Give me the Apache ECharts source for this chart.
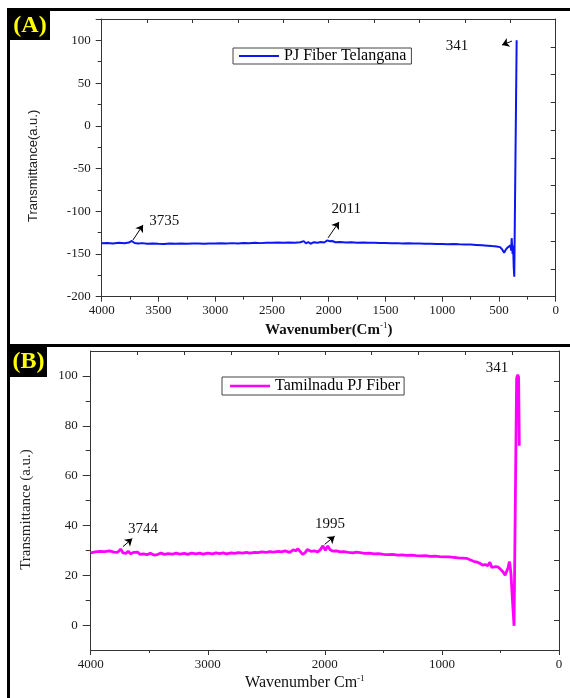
<!DOCTYPE html>
<html>
<head>
<meta charset="utf-8">
<script src="https://cdn.jsdelivr.net/npm/echarts@6/dist/echarts.min.js"></script>
<style>
  html, body { margin: 0; padding: 0; background: #fff; }
  #chart { width: 570px; height: 698px; }
</style>
</head>
<body>
<div id="chart"></div>
<script>
// (A) PJ Fiber Telangana - wavenumber (cm-1) / transmittance
const waveA = [4000, 3950, 3900, 3850, 3800, 3760, 3735, 3710, 3680, 3640, 3600, 3550, 3500, 3450, 3400, 3350, 3300, 3250, 3200, 3150, 3100, 3050, 3000, 2950, 2900, 2850, 2800, 2750, 2700, 2650, 2600, 2550, 2500, 2450, 2400, 2350, 2300, 2250, 2220, 2200, 2180, 2160, 2130, 2100, 2070, 2040, 2011, 1990, 1970, 1940, 1900, 1850, 1800, 1750, 1700, 1650, 1600, 1550, 1500, 1450, 1400, 1350, 1300, 1250, 1200, 1150, 1100, 1050, 1000, 950, 900, 850, 800, 750, 700, 650, 600, 560, 520, 490, 470, 455, 440, 425, 410, 398, 392, 388, 380, 375, 370, 365, 344]
const transA = [-137.5, -137.2, -137.6, -137.0, -137.4, -136.6, -134.8, -137.2, -137.8, -137.3, -137.9, -137.6, -138.0, -138.2, -137.8, -138.0, -137.7, -138.1, -137.8, -137.6, -137.9, -137.6, -137.8, -137.5, -137.7, -137.3, -137.6, -137.2, -137.4, -137.0, -137.3, -136.8, -137.0, -136.6, -136.9, -136.5, -136.8, -136.3, -135.0, -137.6, -136.0, -138.0, -136.2, -136.8, -136.0, -136.6, -134.0, -135.2, -134.8, -136.2, -136.0, -136.6, -136.4, -136.9, -136.7, -137.0, -136.9, -137.2, -137.1, -137.4, -137.3, -137.6, -137.5, -137.8, -137.7, -138.0, -137.9, -138.2, -138.3, -138.5, -138.3, -138.7, -138.9, -139.0, -139.4, -139.8, -140.3, -140.8, -141.2, -142.0, -145.0, -148.5, -145.0, -142.6, -143.5, -140.0, -146.0, -131.5, -150.0, -140.0, -165.0, -176.5, 100]

// (B) Tamilnadu PJ Fiber
const waveB = [4000, 3960, 3920, 3880, 3840, 3800, 3770, 3744, 3725, 3700, 3680, 3660, 3630, 3600, 3580, 3550, 3520, 3490, 3460, 3430, 3400, 3370, 3340, 3300, 3270, 3240, 3200, 3170, 3140, 3100, 3070, 3040, 3000, 2960, 2930, 2900, 2870, 2840, 2800, 2770, 2740, 2700, 2670, 2640, 2600, 2570, 2540, 2500, 2470, 2440, 2400, 2370, 2340, 2300, 2270, 2250, 2230, 2210, 2190, 2170, 2150, 2120, 2090, 2060, 2040, 2016, 1995, 1975, 1955, 1935, 1900, 1870, 1840, 1800, 1760, 1730, 1700, 1660, 1620, 1580, 1540, 1500, 1460, 1420, 1380, 1340, 1300, 1260, 1220, 1180, 1140, 1100, 1060, 1020, 980, 940, 900, 860, 820, 790, 760, 730, 700, 670, 650, 630, 610, 590, 575, 560, 540, 519, 500, 476, 460, 447, 435, 424, 417, 410, 402, 395, 384, 362, 352, 345, 339]
const transB = [29.0, 29.4, 29.6, 29.5, 29.8, 29.3, 29.2, 30.5, 29.0, 28.8, 29.6, 28.6, 29.2, 29.3, 28.4, 28.6, 28.3, 28.8, 28.1, 28.3, 28.9, 28.4, 28.7, 28.5, 28.9, 28.5, 28.8, 28.4, 28.9, 28.6, 28.9, 28.5, 28.9, 28.6, 29.0, 28.7, 29.0, 28.6, 29.0, 28.8, 29.1, 28.9, 29.2, 28.9, 29.2, 29.1, 29.4, 29.2, 29.5, 29.3, 29.6, 29.4, 29.8, 29.2, 30.2, 29.8, 30.6, 29.5, 28.4, 29.0, 30.3, 29.6, 29.8, 29.4, 30.2, 31.8, 30.0, 31.8, 30.2, 29.7, 29.8, 29.4, 29.5, 29.2, 29.0, 29.3, 29.1, 28.8, 28.9, 28.6, 28.7, 28.4, 28.3, 28.4, 28.1, 28.2, 28.0, 28.1, 27.9, 27.8, 27.9, 27.6, 27.7, 27.5, 27.4, 27.4, 27.2, 27.0, 26.9, 26.8, 26.2, 25.6, 25.3, 24.6, 24.0, 24.3, 23.8, 25.2, 23.2, 24.0, 23.5, 23.3, 22.4, 21.2, 20.0, 19.3, 23.0, 25.5, 23.5, 20.4, 13.7, 8.0, -0.3, 99.0, 100.5, 99.5, 72.0]

// peak annotations: text, arrow start (at peak), arrow tip, label centre
const notesA = [
  { text: '3735', from: [3724, -133.6], to: [3636, -116], at: [3450, -111] },
  { text: '2011', from: [2006, -131.2], to: [1909, -112.5], at: [1845, -97] },
  { text: '341', from: [385, 99.2], to: [473, 94.5], at: [870, 93] }
]
const notesB = [
  { text: '3744', from: [3724, 31.5], to: [3645, 34.7], at: [3553, 38.6] },
  { text: '1995', from: [2001, 32.4], to: [1916, 35.7], at: [1956, 40.6] },
  { text: '341', from: null, to: null, at: [530, 103.2] }
]

const serif = 'Liberation Serif, Times New Roman, serif'
const lblStyle = { fontFamily: serif, fontSize: 13, color: '#1a1a1a' }
const axLine = { show: true, onZero: false, lineStyle: { color: '#333' } }

function notes(list) {
  return {
    markLine: {
      silent: true, symbol: ['none', 'arrow'], symbolSize: 7, animation: false,
      lineStyle: { color: '#000', width: 1, type: 'solid' },
      label: { show: false },
      data: list.filter(n => n.from).map(n => [{ coord: n.from }, { coord: n.to }])
    },
    markPoint: {
      silent: true, symbol: 'circle', symbolSize: 0, animation: false,
      label: { show: true, position: 'inside', color: '#111', fontFamily: serif, fontSize: 15,
        formatter: p => p.name },
      data: list.map(n => ({ name: n.text, coord: n.at }))
    }
  }
}

function mirrorX(grid, tickLen) {
  return { gridIndex: grid, type: 'value', position: 'top', inverse: true, min: 0, max: 4000, interval: 400,
    axisLine: axLine, axisTick: { inside: true, length: tickLen, lineStyle: { color: '#333' } },
    axisLabel: { show: false }, splitLine: { show: false } }
}
function mirrorY(grid, min, max, step) {
  return { gridIndex: grid, type: 'value', position: 'right', min: min, max: max, interval: step,
    axisLine: axLine, axisTick: { inside: true, length: 5, lineStyle: { color: '#333' } },
    axisLabel: { show: false }, splitLine: { show: false } }
}

const myChart = echarts.init(document.getElementById('chart'))
myChart.setOption({
  backgroundColor: '#fff',
  animation: false,
  grid: [
    { left: 101.7, top: 19, width: 454, height: 277.7 },
    { left: 90.7, top: 351, width: 468.3, height: 299 }
  ],
  legend: [
    { data: ['PJ Fiber Telangana'], left: 233, top: 48, padding: [0, 5, 0, 6], icon: 'rect', itemWidth: 40, itemHeight: 2,
      borderColor: '#444', borderWidth: 1, textStyle: { fontFamily: serif, fontSize: 16, color: '#000' } },
    { data: ['Tamilnadu PJ Fiber'], left: 222, top: 377, padding: [1, 4, 1, 8], icon: 'rect', itemWidth: 40, itemHeight: 2.5,
      borderColor: '#444', borderWidth: 1, textStyle: { fontFamily: serif, fontSize: 16, color: '#000' } }
  ],
  xAxis: [
    { gridIndex: 0, type: 'value', inverse: true, min: 0, max: 4000, interval: 500,
      name: '{t|Wavenumber(Cm}{s|-1}{t|)}', nameLocation: 'middle', nameGap: 24,
      nameTextStyle: { rich: { t: { fontFamily: serif, fontSize: 15, color: '#111', fontWeight: 'bold', lineHeight: 18 },
        s: { fontFamily: serif, fontSize: 9, color: '#111', verticalAlign: 'top', lineHeight: 18 } } },
      axisLine: axLine, axisTick: { length: 5, lineStyle: { color: '#333' } },
      minorTick: { show: true, splitNumber: 2, length: 3, lineStyle: { color: '#333' } },
      axisLabel: Object.assign({ margin: 7, formatter: v => String(v) }, lblStyle), splitLine: { show: false } },
    mirrorX(0, 4),
    { gridIndex: 1, type: 'value', inverse: true, min: 0, max: 4000, interval: 1000,
      name: '{t|Wavenumber Cm}{s|-1}', nameLocation: 'middle', nameGap: 24,
      nameTextStyle: { padding: [0, 40, 0, 0], rich: { t: { fontFamily: serif, fontSize: 16, color: '#111', lineHeight: 18 },
        s: { fontFamily: serif, fontSize: 9, color: '#111', verticalAlign: 'top', lineHeight: 18 } } },
      axisLine: axLine, axisTick: { length: 5, lineStyle: { color: '#333' } },
      minorTick: { show: true, splitNumber: 2, length: 3, lineStyle: { color: '#333' } },
      axisLabel: Object.assign({ margin: 8, formatter: v => String(v) }, lblStyle), splitLine: { show: false } },
    mirrorX(1, 4)
  ],
  yAxis: [
    { gridIndex: 0, type: 'value', min: -200, max: 125, interval: 50,
      name: 'Transmittance(a.u.)', nameLocation: 'middle', nameGap: 62,
      nameTextStyle: { fontFamily: 'Liberation Sans Narrow, Liberation Sans, sans-serif', fontSize: 13, color: '#222', padding: [0, 16, 0, 0] },
      axisLine: axLine, axisTick: { length: 6, lineStyle: { color: '#333' } },
      minorTick: { show: true, splitNumber: 2, length: 4, lineStyle: { color: '#333' } },
      axisLabel: Object.assign({ margin: 11, formatter: v => (v % 50 === 0 ? String(v) : '') }, lblStyle), splitLine: { show: false } },
    mirrorY(0, -200, 125, 32.5),
    { gridIndex: 1, type: 'value', min: -10, max: 110,
      name: 'Transmittance (a.u.)', nameLocation: 'middle', nameGap: 57,
      nameTextStyle: { fontFamily: serif, fontSize: 15, color: '#222', padding: [0, 18, 0, 0] },
      axisLine: axLine,
      axisTick: { length: 8, customValues: [0, 20, 40, 60, 80, 100], lineStyle: { color: '#333' } },
      axisLabel: Object.assign({ margin: 13, customValues: [0, 20, 40, 60, 80, 100] }, lblStyle), splitLine: { show: false } },
    mirrorY(1, -10, 110, 12),
    { gridIndex: 1, type: 'value', min: -10, max: 110, position: 'left',
      axisLine: { show: false, onZero: false }, axisTick: { length: 5, customValues: [10, 30, 50, 70, 90], lineStyle: { color: '#333' } },
      axisLabel: { show: false }, splitLine: { show: false } }
  ],
  series: [
    Object.assign({ name: 'PJ Fiber Telangana', type: 'line', xAxisIndex: 0, yAxisIndex: 0,
      symbol: 'none', color: '#0b16f2', lineStyle: { width: 2 },
      data: waveA.map((w, i) => [w, transA[i]]) }, notes(notesA)),
    Object.assign({ name: 'Tamilnadu PJ Fiber', type: 'line', xAxisIndex: 2, yAxisIndex: 2,
      symbol: 'none', color: '#ff00ff', lineStyle: { width: 2.8 },
      data: waveB.map((w, i) => [w, transB[i]]) }, notes(notesB))
  ],
  graphic: [
    { type: 'rect', shape: { x: 7, y: 8, width: 3, height: 690 }, style: { fill: '#000' } },
    { type: 'rect', shape: { x: 7, y: 8, width: 563, height: 3 }, style: { fill: '#000' } },
    { type: 'rect', shape: { x: 7, y: 344, width: 563, height: 3 }, style: { fill: '#000' } },
    { type: 'rect', shape: { x: 10, y: 11, width: 40, height: 29 }, style: { fill: '#000' } },
    { type: 'text', x: 30, y: 26, style: { text: '(A)', fill: '#ffff00', font: 'bold 24px Liberation Serif', align: 'center', verticalAlign: 'middle' } },
    { type: 'rect', shape: { x: 10, y: 347, width: 37, height: 30 }, style: { fill: '#000' } },
    { type: 'text', x: 28.5, y: 362, style: { text: '(B)', fill: '#ffff00', font: 'bold 24px Liberation Serif', align: 'center', verticalAlign: 'middle' } }
  ]
})
</script>
</body>
</html>
